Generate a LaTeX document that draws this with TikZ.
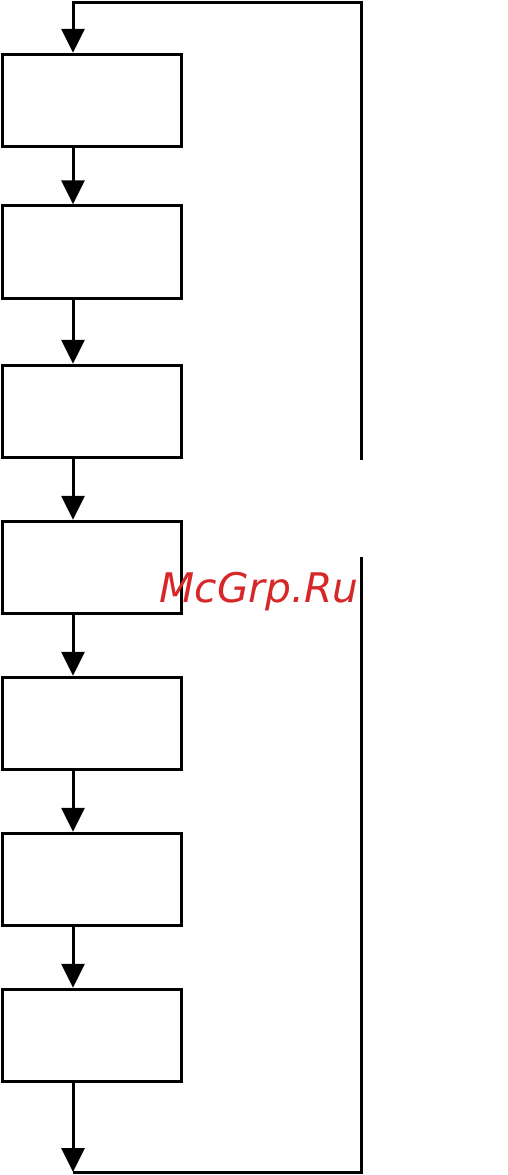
\documentclass[tikz,border=0pt]{standalone}
\usepackage{fontspec}
\newfontfamily\wmfont{DejaVu Sans}
\usetikzlibrary{arrows.meta}
\definecolor{wmred}{RGB}{214,40,40}
\tikzset{
  stepbox/.style={draw=black, line width=3pt, minimum width=178.5pt, minimum height=92.5pt, inner sep=0pt},
  flow/.style={line width=3pt, -{Triangle[width=23pt,length=24pt]}},
  plainline/.style={line width=3pt, line cap=butt}
}
\begin{document}
\begin{tikzpicture}[x=1pt,y=1pt]
\useasboundingbox (0,0) rectangle (507,-1175);
\node[stepbox] (b1) at (92,-100.5) {};
\node[stepbox] (b2) at (92,-252) {};
\node[stepbox] (b3) at (92,-411.5) {};
\node[stepbox] (b4) at (92,-567.5) {};
\node[stepbox] (b5) at (92,-723.5) {};
\node[stepbox] (b6) at (92,-879.5) {};
\node[stepbox] (b7) at (92,-1035.5) {};
\coordinate (tl) at (73,-2.5);
\coordinate (tr) at (361,-2.5);
\coordinate (gt) at (361,-460);
\coordinate (gb) at (361,-557);
\coordinate (br) at (361,-1172);
\coordinate (bl) at (73,-1172);
\draw[flow] (b1.south -| tl) -- (b2.north -| tl);
\draw[flow] (b2.south -| tl) -- (b3.north -| tl);
\draw[flow] (b3.south -| tl) -- (b4.north -| tl);
\draw[flow] (b4.south -| tl) -- (b5.north -| tl);
\draw[flow] (b5.south -| tl) -- (b6.north -| tl);
\draw[flow] (b6.south -| tl) -- (b7.north -| tl);
\draw[flow] (b7.south -| tl) -- (bl);
\draw[plainline] (bl) -- (br) -- (gb);
\draw[flow, line join=miter] (gt) -- (tr) -- (tl) -- (b1.north -| tl);
\node[anchor=base west, inner sep=0pt, text=wmred, font=\wmfont\itshape\fontsize{40.8}{48}\selectfont] (wm) at (159.5,-602) {McGrp.Ru};
\end{tikzpicture}
\end{document}
